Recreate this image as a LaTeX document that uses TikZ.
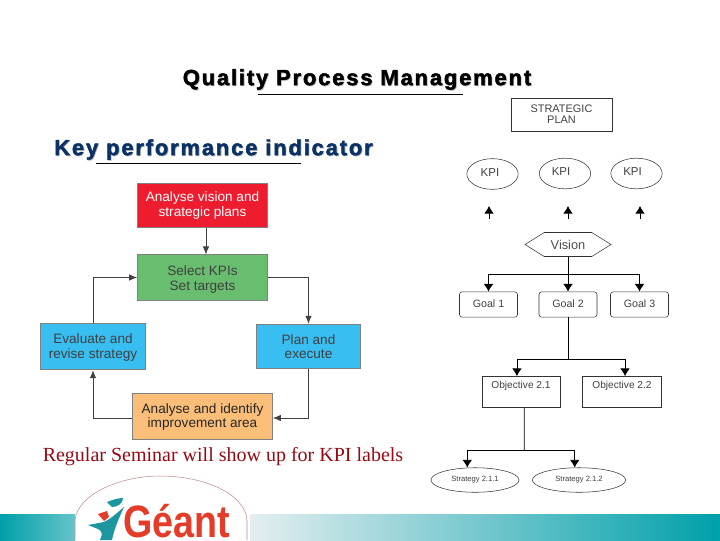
\documentclass[tikz,border=0pt]{standalone}
\usepackage{fontspec}
\setmainfont{Liberation Sans}
\newfontfamily\serifface{Liberation Serif}
\newfontfamily\headface[BoldFeatures={FakeBold=2},LetterSpace=8.2]{Liberation Sans}
\usepackage{xcolor}
\definecolor{titlenavy}{RGB}{10,50,100}
\definecolor{boxred}{RGB}{237,28,46}
\definecolor{boxgreen}{RGB}{104,189,110}
\definecolor{boxblue}{RGB}{56,190,240}
\definecolor{boxorange}{RGB}{250,190,120}
\definecolor{bandteal}{RGB}{0,160,170}
\definecolor{bandpale}{RGB}{228,238,240}
\definecolor{seminarred}{RGB}{150,10,20}
\definecolor{geantred}{RGB}{228,60,40}
\definecolor{geantteal}{RGB}{30,150,160}
\usetikzlibrary{positioning, arrows.meta, shapes.geometric, shapes.symbols, calc}
\newcommand{\linepad}[1]{\rule{0pt}{#1}}
\tikzset{
  stepbox/.style  = {rectangle, draw=black!50, semithick, align=center, inner sep=0pt, font=\fontsize{10.2}{11}\selectfont},
  conn/.style     = {-{Latex[length=2.1mm,width=1.7mm]}, draw=black!75, semithick},
  planbox/.style  = {rectangle, draw=black!80, align=center, inner sep=0pt, text=black!75},
  goalbox/.style  = {rectangle, rounded corners=2pt, draw=black!80, align=center, minimum width=43.5pt, minimum height=19pt, inner sep=0pt, text=black!75, font=\fontsize{8}{9}\selectfont},
  kpi/.style      = {ellipse, draw=black!80, minimum width=38.5pt, minimum height=23pt, inner sep=0pt, text=black!75, font=\fontsize{8.6}{10}\selectfont},
  stratnode/.style= {ellipse, draw=black!80, minimum height=18.4pt, inner sep=0pt, text=black!75, font=\fontsize{5.7}{6}\selectfont},
  treeline/.style = {draw=black, semithick},
  treearrow/.style= {-{Latex[length=2mm,width=2.5mm]}, draw=black, semithick},
  heading/.style  = {font=\headface\bfseries\fontsize{16.5}{18}\selectfont},
  rule/.style     = {draw=black, line width=0.5pt},
}

\begin{document}
\begin{tikzpicture}[x=0.75pt, y=-0.75pt]
    \useasboundingbox (0,0) rectangle (720,540);

    % band along the bottom
    \shade[left color=bandteal, right color=bandteal!55!bandpale] (0,514) rectangle (75,540);
    \shade[left color=bandpale, right color=bandteal] (250,514) rectangle (720,540);

    % logo
    \draw[draw=red!45!black!45, fill=white] (75,540) -- (75,520) .. controls (78,494) and (120,476) .. (160,476)
      .. controls (205,476) and (245,494) .. (247,520) -- (247,540);
    \node[anchor=base west, inner sep=0pt, font=\bfseries\fontsize{34}{36}\selectfont, text=geantred] (geantword) at (123,537) {\scalebox{0.83}[1]{Géant}};
    \fill[geantteal] (88,525) -- (104,522) .. controls (112,518) and (118,512) .. (124,507)
      .. controls (118,520) and (114,530) .. (112,540) -- (100,540) .. controls (103,534) and (102,531) .. (98,529) -- cycle;
    \fill[geantteal] (107,502) .. controls (112,500) and (118,498) .. (123,498) .. controls (123,503) and (118,507) .. (112,507) -- cycle;
    \fill[geantred] (98,514) -- (107,511) -- (109,517) -- (104,521) -- cycle;

    % headings
    \node[heading, text=black!25] (qualityshadow) at (357.8,80.3) {Quality Process Management};
    \node[heading] (quality) at (357,79.5) {Quality Process Management};
    \draw[rule] (258,94.5) -- (463,94.5);
    \node[heading, text=black!25] (keyshadow) at (214.3,150.3) {Key performance indicator};
    \node[heading, text=titlenavy] (keyind) at (213.5,149.5) {Key performance indicator};
    \draw[rule] (96,163.5) -- (301,163.5);

    % KPI cycle
    \node[stepbox, fill=boxred, text=white, minimum width=97.5pt, minimum height=33pt] (vision) at (202.5,205.5) {Analyse vision and\\strategic plans};
    \node[stepbox, fill=boxgreen, text=black!75, minimum width=97.5pt, minimum height=34pt] (select) at (202.5,277.5) {\linepad{10.4pt}Select KPIs\\Set targets};
    \node[stepbox, fill=boxblue, text=black!75, minimum width=78.5pt, minimum height=35pt] (evaluate) at (93,346.5) {\linepad{9pt}Evaluate and\\revise strategy};
    \node[stepbox, fill=boxblue, text=black!75, minimum width=78.5pt, minimum height=33.5pt] (planexec) at (308.5,346.5) {Plan and\\execute};
    \node[stepbox, fill=boxorange, text=black!85, minimum width=105pt, minimum height=34.5pt] (analyse) at (202.5,416) {\linepad{9pt}Analyse and identify\\improvement area};

    \draw[conn] ([xshift=2.6pt]vision.south) -- ([xshift=2.6pt]select.north);
    \draw[conn] (select.east) -| (planexec.north);
    \draw[conn] (planexec.south) |- ([yshift=-1.5pt]analyse.east);
    \draw[conn] ([yshift=-1.5pt]analyse.west) -| (evaluate.south);
    \draw[conn] (evaluate.north) |- (select.west);

    \node[font=\serifface\fontsize{15}{17}\selectfont, text=seminarred] (seminar) at (223,456.5) {Regular Seminar will show up for KPI labels};

    % strategic plan side
    \node[planbox, minimum width=76pt, minimum height=25pt, font=\fontsize{8.2}{8.4}\selectfont] (strategic) at (561.5,114.5) {STRATEGIC\\PLAN};
    \node[kpi] (kpione) at (492.5,174) {\raisebox{2pt}{KPI}\rule{3.8pt}{0pt}};
    \node[kpi] (kpitwo) at (565,173.5) {\raisebox{3pt}{KPI}\rule{6pt}{0pt}};
    \node[kpi] (kpithree) at (636.5,173.5) {\raisebox{3pt}{KPI}\rule{6pt}{0pt}};

    \coordinate (upone) at (489,219);
    \coordinate (uptwo) at (568,219);
    \coordinate (upthree) at (640,219);
    \coordinate (topone) at (489,206);
    \coordinate (toptwo) at (568,206);
    \coordinate (topthree) at (640,206);
    \draw[treearrow] (upone) -- (topone);
    \draw[treearrow] (uptwo) -- (toptwo);
    \draw[treearrow] (upthree) -- (topthree);

    \node[signal, signal to=east and west, signal pointer angle=64, draw=black!80, minimum width=64.5pt, minimum height=18pt, inner sep=0pt, font=\fontsize{9.6}{11}\selectfont, text=black!70] (visionbox) at (568,244.5) {Vision};

    \node[goalbox] (goalone) at (488.5,304.5) {\raisebox{2pt}{Goal 1}};
    \node[goalbox] (goaltwo) at (568,304.5) {\raisebox{2pt}{Goal 2}};
    \node[goalbox] (goalthree) at (639.5,304.5) {\raisebox{2pt}{Goal 3}};

    \coordinate (branchgoal) at (568,274);
    \draw[treeline] (visionbox.south) -- (branchgoal);
    \draw[treearrow] (branchgoal) -| (goalone.north);
    \draw[treearrow] (branchgoal) -- (goaltwo.north);
    \draw[treearrow] (branchgoal) -| (goalthree.north);

    \node[planbox, minimum width=59pt, minimum height=23.5pt] (objone) at (521.2,392) {};
    \node[font=\fontsize{7.6}{8}\selectfont, text=black!75] (objonetext) at (521,385.5) {Objective 2.1};
    \node[planbox, minimum width=59pt, minimum height=23.5pt] (objtwo) at (621.7,392) {};
    \node[font=\fontsize{7.6}{8}\selectfont, text=black!75] (objtwotext) at (622,385.5) {Objective 2.2};

    \coordinate (branchobj) at (568,359.5);
    \draw[treeline] (goaltwo.south) -- (branchobj);
    \draw[treearrow] (branchobj) -| ([xshift=-3.2pt]objone.north);
    \draw[treearrow] (branchobj) -| ([xshift=2.5pt]objtwo.north);

    \node[stratnode, minimum width=66pt] (stratone) at (475,480) {Strategy 2.1.1};
    \node[stratnode, minimum width=70pt] (strattwo) at (579,480) {Strategy 2.1.2};

    \coordinate (branchstrat) at (524.3,450);
    \draw[treeline] ([xshift=2.3pt]objone.south) -- (branchstrat);
    \draw[treearrow] (branchstrat) -| ([xshift=-5.8pt]stratone.north);
    \draw[treearrow] (branchstrat) -| ([xshift=-3.2pt]strattwo.north);
  \end{tikzpicture}
\end{document}
